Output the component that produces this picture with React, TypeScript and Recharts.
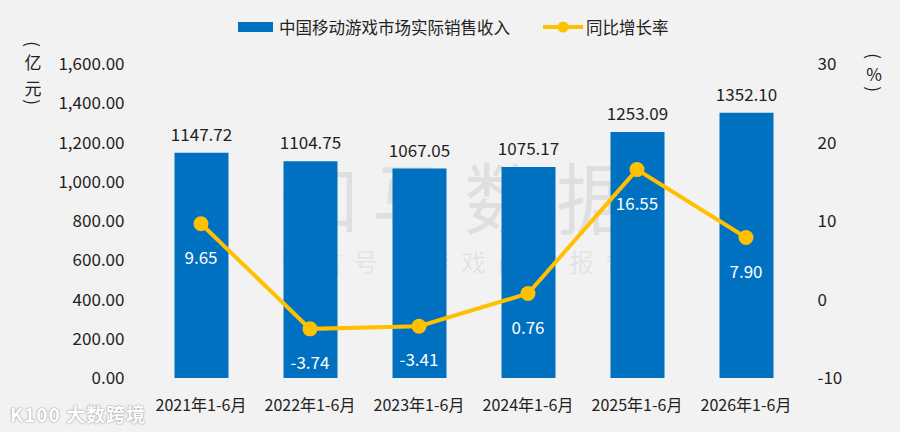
import React from 'react';
import { ComposedChart, Bar, Line, XAxis, YAxis, LabelList } from 'recharts';

const categories = ['2021年1-6月', '2022年1-6月', '2023年1-6月', '2024年1-6月', '2025年1-6月', '2026年1-6月'];
const revenue = [1147.72, 1104.75, 1067.05, 1075.17, 1253.09, 1352.1];
const growth = [9.65, -3.74, -3.41, 0.76, 16.55, 7.9];
const leftTicks = [0, 200, 400, 600, 800, 1000, 1200, 1400, 1600];
const rightTicks = [-10, 0, 10, 20, 30];

const data = categories.map((name, i) => ({ name, revenue: revenue[i], growth: growth[i] }));

const FONT = '"Noto Sans CJK SC", "Noto Sans", sans-serif';
const TEXT = '#222222';
const BLUE = '#0070c0';
const YELLOW = '#ffc000';

const fmtLeft = (v: number) =>
  v.toLocaleString('en-US', { minimumFractionDigits: 2, maximumFractionDigits: 2 });

const VChar = ({ ch, x, y, rotate = false }: { ch: string; x: number; y: number; rotate?: boolean }) => (
  <div
    style={{
      position: 'absolute',
      left: x - 12,
      top: y - 12,
      width: 24,
      height: 24,
      lineHeight: '24px',
      textAlign: 'center',
      fontSize: 17,
      color: TEXT,
      transform: rotate ? 'rotate(90deg)' : undefined,
    }}
  >
    {ch}
  </div>
);

export default function App() {
  return (
    <div
      style={{
        position: 'absolute',
        left: 0,
        top: 0,
        width: 900,
        height: 432,
        background: '#f2f2f2',
        fontFamily: FONT,
        overflow: 'hidden',
      }}
    >
      {/* watermark */}
      <div
        style={{
          position: 'absolute',
          left: 0,
          top: 150,
          width: 900,
          textAlign: 'center',
          fontSize: 78,
          letterSpacing: 14,
          color: 'rgba(0,0,0,0.08)',
          lineHeight: '90px',
          paddingLeft: 14,
        }}
      >
        伽马数据
      </div>
      <div
        style={{
          position: 'absolute',
          left: 0,
          top: 246,
          width: 900,
          textAlign: 'center',
          fontSize: 25,
          letterSpacing: 11,
          color: 'rgba(0,0,0,0.07)',
          lineHeight: '30px',
          paddingLeft: 11,
        }}
      >
        微信号：游戏产业报告
      </div>

      {/* legend */}
      <div
        style={{
          position: 'absolute',
          left: 238,
          top: 15,
          height: 24,
          display: 'flex',
          alignItems: 'center',
          fontSize: 16.5,
          color: TEXT,
          whiteSpace: 'nowrap',
        }}
      >
        <span style={{ display: 'inline-block', width: 35, height: 10, background: BLUE, marginRight: 6 }} />
        <span>中国移动游戏市场实际销售收入</span>
        <span style={{ display: 'inline-block', width: 33 }} />
        <svg width={40} height={14} style={{ marginRight: 3 }}>
          <line x1={0} y1={7} x2={40} y2={7} stroke={YELLOW} strokeWidth={4} />
          <circle cx={20} cy={7} r={5.5} fill={YELLOW} />
        </svg>
        <span>同比增长率</span>
      </div>

      {/* axis unit labels */}
      <VChar ch="(" x={33} y={44} rotate />
      <VChar ch="亿" x={33} y={62} />
      <VChar ch="元" x={33} y={88} />
      <VChar ch=")" x={33} y={102} rotate />
      <VChar ch="(" x={874} y={56} rotate />
      <VChar ch="%" x={874} y={74} />
      <VChar ch=")" x={874} y={89} rotate />

      {/* bottom-left watermark */}
      <div
        style={{
          position: 'absolute',
          left: 10,
          top: 400,
          fontSize: 19,
          fontWeight: 700,
          color: '#ffffff',
          textShadow: '0 0 2px #9a9a9a, 0 0 1px #9a9a9a',
          letterSpacing: 1,
        }}
      >
        K100 大数跨境
      </div>

      <div style={{ position: 'absolute', left: 0, top: 0 }}>
        <ComposedChart
          width={900}
          height={432}
          data={data}
          margin={{ top: 64, right: 0, bottom: 14, left: 0 }}
          barCategoryGap={55}
        >
          <XAxis
            dataKey="name"
            axisLine={false}
            tickLine={false}
            tickSize={0}
            tickMargin={22}
            height={40}
            tick={{ fill: TEXT, fontSize: 16, fontFamily: FONT }}
            interval={0}
          />
          <YAxis
            yAxisId="left"
            orientation="left"
            width={146.5}
            domain={[0, 1600]}
            ticks={leftTicks}
            tickFormatter={fmtLeft}
            axisLine={false}
            tickLine={false}
            tickSize={0}
            tickMargin={22}
            tick={{ fill: TEXT, fontSize: 17, fontFamily: FONT }}
            interval={0}
          />
          <YAxis
            yAxisId="right"
            orientation="right"
            width={99.5}
            domain={[-10, 30]}
            ticks={rightTicks}
            axisLine={false}
            tickLine={false}
            tickSize={0}
            tickMargin={17}
            tick={{ fill: TEXT, fontSize: 17, fontFamily: FONT }}
            interval={0}
          />
          <Bar yAxisId="left" dataKey="revenue" fill={BLUE} barSize={54} isAnimationActive={false}>
            <LabelList
              dataKey="revenue"
              position="top"
              offset={12}
              formatter={(v: number) => v.toFixed(2)}
              style={{ fill: TEXT, fontSize: 17, fontFamily: FONT }}
            />
          </Bar>
          <Line
            yAxisId="right"
            dataKey="growth"
            stroke={YELLOW}
            strokeWidth={4}
            dot={{ r: 7.5, fill: YELLOW, stroke: YELLOW, strokeWidth: 0 }}
            activeDot={false}
            isAnimationActive={false}
          >
            <LabelList
              dataKey="growth"
              position="bottom"
              offset={28}
              formatter={(v: number) => v.toFixed(2)}
              style={{ fill: '#ffffff', fontSize: 17, fontFamily: FONT }}
            />
          </Line>
        </ComposedChart>
      </div>
    </div>
  );
}
